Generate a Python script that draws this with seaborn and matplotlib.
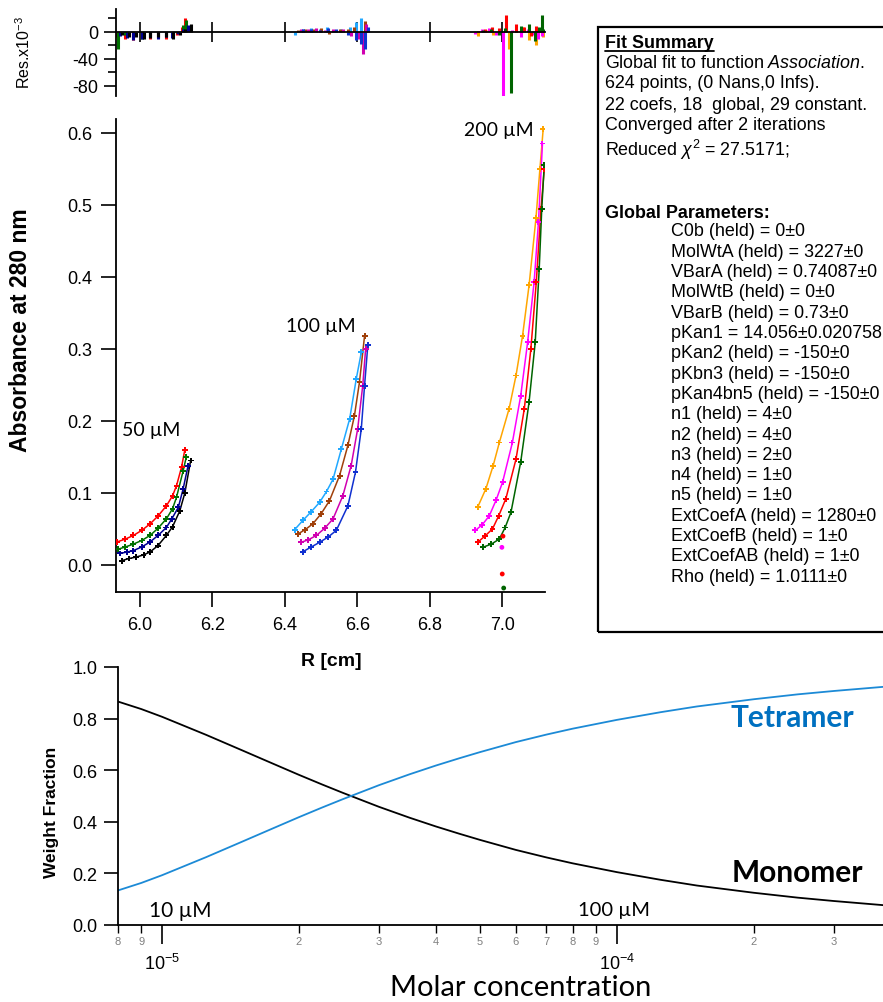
import numpy as np
import pandas as pd
import matplotlib
matplotlib.use("Agg")
import matplotlib.pyplot as plt
import seaborn as sns
from matplotlib.ticker import FixedLocator, FixedFormatter, MultipleLocator, FormatStrFormatter
from matplotlib.patches import Rectangle
from matplotlib.lines import Line2D

# ---------------- data: sedimentation scans (R in cm, absorbance) ----------------
# 50 uM
r50_red = [5.937, 5.960, 5.982, 6.005, 6.028, 6.050, 6.073, 6.090, 6.101, 6.115, 6.124]
a50_red = [0.032, 0.036, 0.041, 0.048, 0.057, 0.068, 0.082, 0.096, 0.110, 0.136, 0.160]
e50_red = [-8, -10, -12, -9, -11, -8, -10, -6, -4, 8, 20]
r50_grn = [5.940, 5.960, 5.982, 6.005, 6.028, 6.050, 6.073, 6.090, 6.101, 6.119, 6.128]
a50_grn = [0.022, 0.025, 0.029, 0.034, 0.041, 0.051, 0.064, 0.078, 0.094, 0.130, 0.150]
e50_grn = [-25, -5, -8, -10, -7, -9, -6, -4, -2, 10, 18]
r50_nav = [5.945, 5.965, 5.982, 6.005, 6.028, 6.050, 6.073, 6.088, 6.106, 6.119, 6.133]
a50_nav = [0.016, 0.018, 0.020, 0.025, 0.032, 0.041, 0.052, 0.064, 0.080, 0.105, 0.138]
e50_nav = [-6, -9, -12, -10, -8, -11, -7, -9, -3, 4, 10]
r50_blk = [5.950, 5.970, 5.990, 6.010, 6.028, 6.050, 6.073, 6.090, 6.110, 6.124, 6.140]
a50_blk = [0.006, 0.009, 0.011, 0.014, 0.018, 0.027, 0.041, 0.053, 0.075, 0.100, 0.145]
e50_blk = [-4, -7, -8, -11, -9, -7, -8, -10, -5, 5, 12]
# 100 uM
r100_sky = [6.427, 6.450, 6.473, 6.496, 6.515, 6.533, 6.556, 6.579, 6.597, 6.611]
a100_sky = [0.049, 0.062, 0.074, 0.087, 0.102, 0.119, 0.161, 0.203, 0.258, 0.295]
e100_sky = [-4, 5, 6, 4, 7, 3, 5, 8, 14, 20]
r100_brn = [6.436, 6.456, 6.477, 6.500, 6.523, 6.551, 6.574, 6.592, 6.606, 6.620]
a100_brn = [0.043, 0.049, 0.057, 0.071, 0.089, 0.124, 0.166, 0.207, 0.254, 0.318]
e100_brn = [3, 5, 4, 6, -3, 5, 4, 8, -8, 16]
r100_mag = [6.445, 6.465, 6.487, 6.510, 6.533, 6.560, 6.583, 6.601, 6.615, 6.623]
a100_mag = [0.0315, 0.035, 0.041, 0.051, 0.064, 0.096, 0.138, 0.189, 0.249, 0.300]
e100_mag = [5, 4, 6, 3, 5, 4, -6, -10, -32, 12]
r100_blu = [6.450, 6.473, 6.496, 6.520, 6.542, 6.574, 6.595, 6.611, 6.620, 6.629]
a100_blu = [0.0185, 0.025, 0.0315, 0.039, 0.048, 0.082, 0.129, 0.189, 0.249, 0.305]
e100_blu = [4, 5, 3, 6, 4, -5, -12, -18, -25, 8]
# 200 uM
r200_org = [6.932, 6.955, 6.975, 6.992, 7.019, 7.038, 7.056, 7.074, 7.093, 7.104, 7.113]
a200_org = [0.080, 0.106, 0.138, 0.170, 0.217, 0.263, 0.318, 0.388, 0.481, 0.550, 0.605]
e200_org = [-6, 3, -4, 5, -25, 4, 8, -12, -20, 6, -8]
r200_mag = [6.926, 6.945, 6.964, 6.983, 7.001, 7.028, 7.051, 7.070, 7.088, 7.100, 7.111]
a200_mag = [0.048, 0.056, 0.068, 0.090, 0.115, 0.170, 0.235, 0.309, 0.393, 0.476, 0.585]
e200_mag = [-3, 4, 6, -5, -95, 3, -8, 5, -4, -10, -6]
r200_red = [6.932, 6.952, 6.973, 6.990, 7.010, 7.038, 7.061, 7.079, 7.094, 7.107, 7.116]
a200_red = [0.0315, 0.040, 0.050, 0.068, 0.092, 0.147, 0.217, 0.300, 0.393, 0.494, 0.550]
e200_red = [2, 4, 8, 6, 25, 12, 8, -6, 9, 5, 3]
r200_grn = [6.946, 6.970, 6.992, 7.008, 7.024, 7.051, 7.074, 7.091, 7.102, 7.109, 7.116]
a200_grn = [0.0245, 0.029, 0.036, 0.052, 0.073, 0.143, 0.226, 0.309, 0.411, 0.494, 0.555]
e200_grn = [3, 5, -4, 6, -90, 9, 12, -14, 7, 25, 4]
# outlier points near 7.0 cm
r_out = [7.000, 7.004, 6.999, 7.002]
a_out = [-0.0125, -0.032, 0.0245, 0.040]
c_out = ["red2", "green2", "mag2", "red2"]

scan_names = ["red50", "grn50", "nav50", "blk50", "sky100", "brn100", "mag100", "blu100",
              "org200", "mag200", "red200", "grn200"]
scan_colors = ["#FF0000", "#007000", "#000090", "#000000", "#20A8FF", "#A0400A", "#D000B0", "#1030D0",
               "#FFA500", "#FF00FF", "#FF0000", "#006400"]
scan_r = [r50_red, r50_grn, r50_nav, r50_blk, r100_sky, r100_brn, r100_mag, r100_blu,
          r200_org, r200_mag, r200_red, r200_grn]
scan_a = [a50_red, a50_grn, a50_nav, a50_blk, a100_sky, a100_brn, a100_mag, a100_blu,
          a200_org, a200_mag, a200_red, a200_grn]
scan_e = [e50_red, e50_grn, e50_nav, e50_blk, e100_sky, e100_brn, e100_mag, e100_blu,
          e200_org, e200_mag, e200_red, e200_grn]

# weight fraction vs molar concentration
conc = [8e-6, 9e-6, 1e-5, 1.25e-5, 1.5e-5, 1.75e-5, 2e-5, 2.25e-5, 2.5e-5, 3e-5, 3.5e-5, 4e-5,
        4.5e-5, 5e-5, 6e-5, 7e-5, 8e-5, 1e-4, 1.25e-4, 1.5e-4, 2e-4, 2.5e-4, 3e-4, 3.85e-4]
monomer = [0.866, 0.837, 0.807, 0.737, 0.677, 0.626, 0.582, 0.5445, 0.512, 0.458, 0.416, 0.382,
           0.354, 0.330, 0.291, 0.262, 0.239, 0.205, 0.175, 0.153, 0.125, 0.106, 0.093, 0.077]
tetramer = [0.134, 0.163, 0.193, 0.263, 0.323, 0.374, 0.418, 0.4555, 0.488, 0.542, 0.584, 0.618,
            0.646, 0.670, 0.709, 0.738, 0.761, 0.795, 0.825, 0.847, 0.875, 0.894, 0.907, 0.923]

summary_lines = ["Global fit to function $\\mathit{Association}$.",
                 "624 points, (0 Nans,0 Infs).",
                 "22 coefs, 18  global, 29 constant.",
                 "Converged after 2 iterations",
                 "Reduced $\\chi^{2}$ = 27.5171;"]
param_lines = ["C0b (held) = 0\u00b10", "MolWtA (held) = 3227\u00b10", "VBarA (held) = 0.74087\u00b10",
               "MolWtB (held) = 0\u00b10", "VBarB (held) = 0.73\u00b10", "pKan1 = 14.056\u00b10.020758",
               "pKan2 (held) = -150\u00b10", "pKbn3 (held) = -150\u00b10", "pKan4bn5 (held) = -150\u00b10",
               "n1 (held) = 4\u00b10", "n2 (held) = 4\u00b10", "n3 (held) = 2\u00b10", "n4 (held) = 1\u00b10",
               "n5 (held) = 1\u00b10", "ExtCoefA (held) = 1280\u00b10", "ExtCoefB (held) = 1\u00b10",
               "ExtCoefAB (held) = 1\u00b10", "Rho (held) = 1.0111\u00b10"]

# ---------------- style ----------------
sns.set_theme(style="ticks")
plt.rcParams["font.family"] = ["Liberation Sans", "DejaVu Sans"]
plt.rcParams["mathtext.fontset"] = "custom"
plt.rcParams["mathtext.rm"] = "Liberation Sans"
plt.rcParams["mathtext.it"] = "Liberation Sans:italic"
plt.rcParams["mathtext.bf"] = "Liberation Sans:bold"
plt.rcParams["axes.linewidth"] = 1.3
plt.rcParams["axes.edgecolor"] = "black"
plt.rcParams["text.color"] = "black"
plt.rcParams["axes.labelcolor"] = "black"
plt.rcParams["xtick.color"] = "black"
plt.rcParams["ytick.color"] = "black"

W, H = 883, 1003
fig = plt.figure(figsize=(W / 100, H / 100), dpi=100)
fig.patch.set_facecolor("white")
LATO = ["Lato", "DejaVu Sans"]


def fx(px):
    return px / W


def fy(py):
    return 1 - py / H


def axrect(l, t, r, b):
    return [fx(l), fy(b), (r - l) / W, (b - t) / H]


pal = dict(zip(scan_names, scan_colors))
rows = []
for n, rr, aa in zip(scan_names, scan_r, scan_a):
    for x, y in zip(rr, aa):
        rows.append((n, x, y))
df = pd.DataFrame(rows, columns=["scan", "R", "A"])

# ---------------- main absorbance axes ----------------
ax = fig.add_axes(axrect(116, 120, 545, 593))
sns.lineplot(data=df, x="R", y="A", hue="scan", palette=pal, legend=False, ax=ax,
             linewidth=1.1, estimator=None)
sns.scatterplot(data=df, x="R", y="A", hue="scan", palette=pal, legend=False, ax=ax,
                marker="P", s=18, linewidth=0, zorder=3)
out_pal = {"red2": "#FF0000", "green2": "#006400", "mag2": "#FF00FF"}
sns.scatterplot(x=r_out, y=a_out, hue=c_out, palette=out_pal, legend=False, ax=ax,
                s=12, linewidth=0, zorder=3, clip_on=False)
ax.set_xlim(5.934, 7.118)
ax.set_ylim(-0.0375, 0.619)
ax.xaxis.set_major_locator(MultipleLocator(0.2))
ax.xaxis.set_major_formatter(FormatStrFormatter("%.1f"))
ax.yaxis.set_major_locator(FixedLocator([0, 0.1, 0.2, 0.3, 0.4, 0.5, 0.6]))
ax.yaxis.set_major_formatter(FormatStrFormatter("%.1f"))
ax.tick_params(axis="both", direction="out", length=11, width=1.2, labelsize=13, colors="black",
               pad=6)
ax.set_xlabel("")
ax.set_ylabel("")
sns.despine(ax=ax)
ax.text(6.03, 0.188, "50 \u00b5M", fontsize=14, family=LATO, ha="center", va="center")
ax.text(6.5, 0.332, "100 \u00b5M", fontsize=14, family=LATO, ha="center", va="center")
ax.text(6.99, 0.605, "200 \u00b5M", fontsize=14, family=LATO, ha="center", va="center")

fig.text(fx(21), fy(330), "Absorbance at 280 nm", rotation=90, ha="center", va="center",
         fontsize=16.5, fontweight="bold")
fig.text(fx(331), fy(662), "R [cm]", ha="center", va="center", fontsize=14, fontweight="bold")

# ---------------- residual axes ----------------
axr = fig.add_axes(axrect(116, 10, 545, 97))
for rr, ee, c in zip(scan_r, scan_e, scan_colors):
    axr.vlines(rr, 0, ee, colors=c, linewidth=2.2)
axr.set_xlim(5.934, 7.118)
axr.set_ylim(-95, 34)
axr.spines["top"].set_visible(False)
axr.spines["right"].set_visible(False)
axr.spines["bottom"].set_position(("data", 0))
axr.xaxis.set_major_locator(MultipleLocator(0.2))
axr.tick_params(axis="x", direction="inout", length=14, width=1.2, labelbottom=False)
axr.yaxis.set_major_locator(FixedLocator([0, -40, -80]))
axr.yaxis.set_minor_locator(FixedLocator([20, -20, -60]))
axr.yaxis.set_major_formatter(FixedFormatter(["0", "-40", "-80"]))
axr.tick_params(axis="y", which="major", direction="out", length=9, width=1.2, labelsize=13, pad=4)
axr.tick_params(axis="y", which="minor", direction="out", length=6, width=1.2)
fig.text(fx(24), fy(52), "Res.x10$^{-3}$", rotation=90, ha="center", va="center", fontsize=11.5)

# ---------------- fit summary box ----------------
FS = 12.9
fig.add_artist(Rectangle((fx(598), fy(633)), 0.5, (633 - 28) / H, transform=fig.transFigure,
                         fill=False, edgecolor="black", linewidth=1.6, clip_on=False))
t0 = fig.text(fx(605), fy(43), "Fit Summary", fontsize=FS, fontweight="bold", va="center", ha="left")
ys = [63, 84, 105, 125, 150]
for s, yy in zip(summary_lines, ys):
    fig.text(fx(605), fy(yy), s, fontsize=FS, va="center", ha="left")
fig.text(fx(605), fy(213), "Global Parameters:", fontsize=FS, fontweight="bold", va="center", ha="left")
for i, s in enumerate(param_lines):
    fig.text(fx(671), fy(232 + i * 20.3), s, fontsize=FS, va="center", ha="left")
fig.canvas.draw()
bb = t0.get_window_extent()
fig.add_artist(Line2D([bb.x0 / W, bb.x1 / W], [fy(52), fy(52)], transform=fig.transFigure,
                      color="black", linewidth=1.3))

# ---------------- weight fraction axes ----------------
axw = fig.add_axes(axrect(118, 668, 883, 926))
sns.lineplot(x=conc, y=monomer, color="black", linewidth=1.3, ax=axw)
sns.lineplot(x=conc, y=tetramer, color="#1C8AD6", linewidth=1.3, ax=axw)
axw.set_xscale("log")
axw.set_xlim(8e-6, 3.85e-4)
axw.set_ylim(0, 1.0)
sns.despine(ax=axw)
axw.yaxis.set_major_locator(FixedLocator([0, 0.2, 0.4, 0.6, 0.8, 1.0]))
axw.yaxis.set_major_formatter(FormatStrFormatter("%.1f"))
axw.tick_params(axis="y", direction="out", length=10, width=1.2, labelsize=13, pad=5)
axw.xaxis.set_major_locator(FixedLocator([1e-5, 1e-4]))
axw.xaxis.set_major_formatter(FixedFormatter(["10$^{-5}$", "10$^{-4}$"]))
minor_pos = [8e-6, 9e-6, 2e-5, 3e-5, 4e-5, 5e-5, 6e-5, 7e-5, 8e-5, 9e-5, 2e-4, 3e-4]
minor_lab = ["8", "9", "2", "3", "4", "5", "6", "7", "8", "9", "2", "3"]
axw.xaxis.set_minor_locator(FixedLocator(minor_pos))
axw.xaxis.set_minor_formatter(FixedFormatter(minor_lab))
axw.tick_params(axis="x", which="major", direction="out", length=14, width=1.2, labelsize=13, pad=6)
axw.tick_params(axis="x", which="minor", direction="out", length=6, width=1.0, labelsize=8,
                labelcolor="#7f7f7f", pad=2)
axw.set_xlabel("")
axw.set_ylabel("")
fig.text(fx(52), fy(812), "Weight Fraction", rotation=90, ha="center", va="center", fontsize=12.5,
         fontweight="bold")
fig.text(fx(521), fy(988), "Molar concentration", ha="center", va="center", fontsize=21, family=LATO)
fig.text(fx(792), fy(718), "Tetramer", ha="center", va="center", fontsize=21.5, fontweight="bold",
         color="#0070C0", family=LATO)
fig.text(fx(797), fy(873), "Monomer", ha="center", va="center", fontsize=21.5, fontweight="bold",
         color="black", family=LATO)
fig.text(fx(180), fy(911), "10 \u00b5M", ha="center", va="center", fontsize=15, family=LATO)
fig.text(fx(614), fy(911), "100 \u00b5M", ha="center", va="center", fontsize=14.5, family=LATO)

fig.savefig("out.png", dpi=100)
